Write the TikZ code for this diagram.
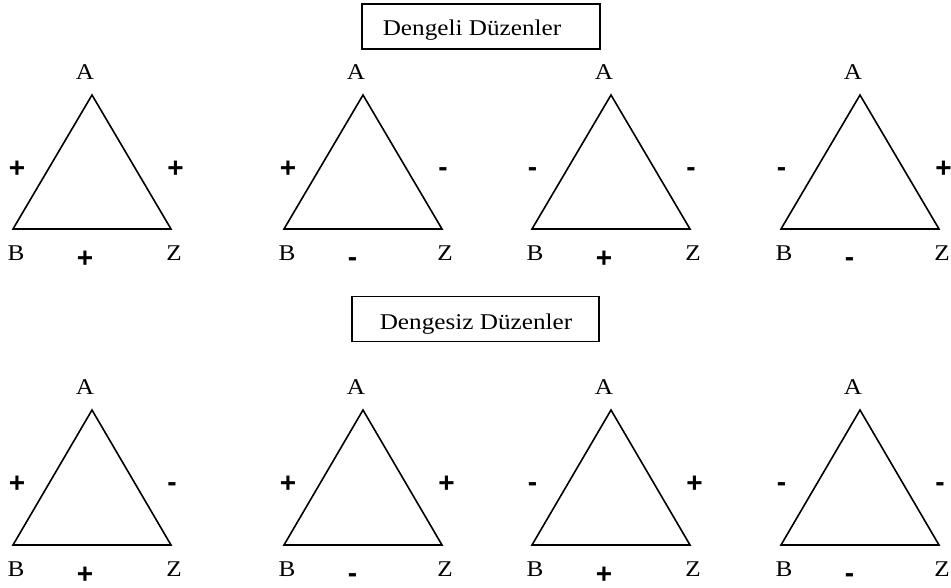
\documentclass[tikz,border=0pt]{standalone}
\usepackage{fontspec}
\setmainfont{Liberation Serif}
\newfontfamily\signfont{Liberation Sans}
\usetikzlibrary{calc}
\def\symp{+}
\def\symm{-}
\newcommand{\wtext}[1]{\scalebox{1.12}[1]{#1}}
\tikzset{
  tri/.style={line width=1.6pt, line join=miter},
  vlabel/.style={font=\fontsize{22.5}{22.5}\selectfont, inner sep=0pt},
  sign/.style={font=\signfont\bfseries\fontsize{28}{28}\selectfont, inner sep=0pt},
  signp/.style={sign, xshift=3.5pt, yshift=-1pt},
  signm/.style={sign, yshift=-4pt},
  titlebox/.style={draw, line width=1.8pt, minimum height=45pt, inner sep=0pt},
  titletext/.style={font=\fontsize{22.5}{22.5}\selectfont, inner sep=0pt, anchor=base}
}
\begin{document}
\begin{tikzpicture}[x=1pt,y=-1pt]
\useasboundingbox (0,0) rectangle (951,588);
\node[titlebox, minimum width=238pt] (box1) at (481,26.5) {};
\node[titletext] (title1) at (472,36) {\wtext{Dengeli Düzenler}};
\node[titlebox, minimum width=247pt] (box2) at (475.5,319) {};
\node[titletext] (title2) at (476,329) {\wtext{Dengesiz Düzenler}};
\foreach \n/\bx/\ay/\by/\ls/\rs/\bs in {
  t1/13/95/229/p/p/p, t2/284/95/229/p/m/m, t3/532/95/229/m/m/p, t4/781/95/229/m/p/m,
  b1/13/410/545/p/m/p, b2/284/410/545/p/p/m, b3/532/410/545/m/p/p, b4/781/410/545/m/m/m}{
  \coordinate (\n-B) at (\bx,\by);
  \coordinate (\n-Z) at (\bx+158,\by);
  \coordinate (\n-A) at (\bx+79,\ay);
  \draw[tri] (\n-A) -- (\n-B) -- (\n-Z) -- cycle;
  \node[vlabel] (\n-la) at ($(\n-A)+(-7,-22.5)$) {\wtext{A}};
  \node[vlabel] (\n-lb) at ($(\n-B)+(3,24)$) {\wtext{B}};
  \node[vlabel] (\n-lz) at ($(\n-Z)+(3,24)$) {\wtext{Z}};
  \node[sign\ls] (\n-sl) at ($(\n-B |- \n-A)+(0.5,73)$) {\csname sym\ls\endcsname};
  \node[sign\rs] (\n-sr) at ($(\n-Z |- \n-A)+(1,73)$) {\csname sym\rs\endcsname};
  \node[sign\bs] (\n-sb) at ($(\n-B)+(68.5,29)$) {\csname sym\bs\endcsname};
}
\end{tikzpicture}
\end{document}
